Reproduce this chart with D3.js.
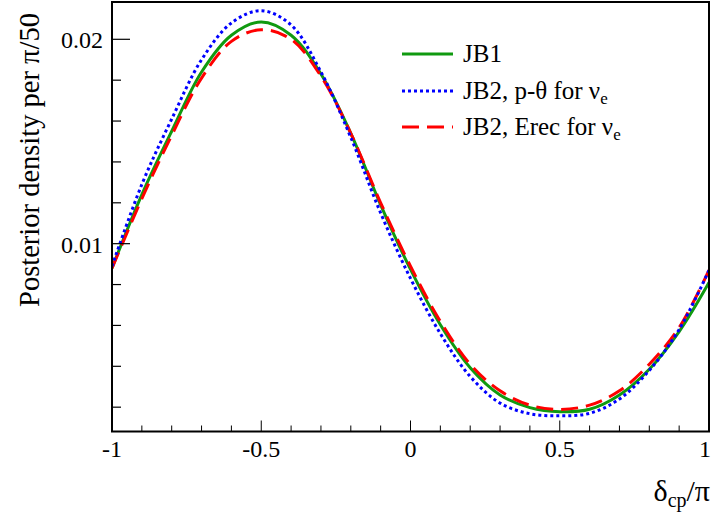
<!DOCTYPE html>
<html><head><meta charset="utf-8">
<script src="https://cdn.jsdelivr.net/npm/d3@7"></script>
<style>body{margin:0;background:#fff}svg{display:block}text{font-family:"Liberation Serif","Times New Roman",serif;fill:#000}</style>
</head><body><svg id="c" width="713" height="516"></svg>
<script>
const deltaCP = [-1.0,-0.9,-0.8,-0.7,-0.6,-0.5,-0.4,-0.3,-0.2,-0.1,0.0,0.1,0.2,0.3,0.4,0.5,0.6,0.7,0.8,0.9,1.0];
const jb1      = [0.0088,0.0124,0.0155,0.0184,0.0202,0.02085,0.0202,0.0183,0.0154,0.0119,0.00874,0.00603,0.00393,0.0026,0.00198,0.00178,0.0019,0.0026,0.00386,0.0057,0.0081];
const jb2ptheta= [0.0089,0.0129,0.0161,0.0190,0.0208,0.0214,0.0207,0.0184,0.0152,0.0115,0.0083,0.0056,0.0035,0.0022,0.00168,0.00158,0.0017,0.0024,0.0038,0.0058,0.0087];
const jb2erec  = [0.0088,0.0122,0.0153,0.0181,0.0199,0.02047,0.0200,0.0182,0.0154,0.0120,0.0089,0.0062,0.0041,0.0028,0.0021,0.00189,0.0021,0.0028,0.0041,0.0059,0.0087];
const seriesNames = ["JB1","JB2, p-θ for ","JB2, Erec for "];
const xTickLabels = ["-1","-0.5","0","0.5","1"];
const yTickLabels = ["0.01","0.02"];

const svg = d3.select("#c");
const L=112,R=709,T=2,B=431.5;
const x = d3.scaleLinear().domain([-1,1]).range([L,R]);
const y = d3.scaleLinear().domain([0.00081,0.021825]).range([B,T]);

const series = [
 {v:jb1, color:"#109a10", dash:null},
 {v:jb2ptheta, color:"#0000ff", dash:"3,3"},
 {v:jb2erec, color:"#ff0000", dash:"17,8"}
];
const line = d3.line().x((d,i)=>x(deltaCP[i])).y(d=>y(d)).curve(d3.curveCatmullRom.alpha(0.5));
const g = svg.append("g");
g.append("clipPath").attr("id","clip").append("rect").attr("x",L).attr("y",T).attr("width",R-L).attr("height",B-T);
[0,2,1].forEach(k=>{
  const s=series[k];
  g.append("path").attr("d",line(s.v)).attr("fill","none").attr("stroke",s.color)
   .attr("stroke-width",3).attr("stroke-dasharray",s.dash).attr("clip-path","url(#clip)");
});

svg.append("rect").attr("x",L).attr("y",T).attr("width",R-L).attr("height",B-T)
  .attr("fill","none").attr("stroke","#000").attr("stroke-width",2);

const xt = d3.range(-10,11).map(i=>i/10);
svg.append("g").selectAll("line").data(xt).join("line")
  .attr("x1",d=>x(d)).attr("x2",d=>x(d))
  .attr("y1",B).attr("y2",(d,i)=>B-(i%5===0?11:6)).attr("stroke","#000").attr("stroke-width",1);
svg.append("g").selectAll("text").data(xTickLabels).join("text")
  .attr("x",d=>Math.min(x(+d),705)).attr("y",457).attr("text-anchor","middle").attr("font-size",24).text(d=>d);

const yt = d3.range(1,11).map(i=>i*0.002);
svg.append("g").selectAll("line").data(yt).join("line")
  .attr("y1",d=>y(d)).attr("y2",d=>y(d))
  .attr("x1",L).attr("x2",(d,i)=>L+((i+1)%5===0?18:9)).attr("stroke","#000").attr("stroke-width",1.2);
svg.append("g").selectAll("text").data(yTickLabels).join("text")
  .attr("x",103).attr("y",d=>y(+d)+9).attr("text-anchor","end").attr("font-size",24).text(d=>d);

svg.append("text").attr("transform","translate(39,160) rotate(-90)").attr("text-anchor","middle")
  .attr("font-size",28.5).text("Posterior density per π/50");
const xtitle = svg.append("text").attr("x",710).attr("y",501).attr("text-anchor","end").attr("font-size",30);
xtitle.append("tspan").text("δ");
xtitle.append("tspan").attr("font-size",20).attr("dy",6).text("cp");
xtitle.append("tspan").attr("dy",-6).text("/π");

const ly=[54,91,127];
series.forEach((s,k)=>{
  svg.append("line").attr("x1",402).attr("x2",453).attr("y1",ly[k]).attr("y2",ly[k])
    .attr("stroke",s.color).attr("stroke-width",3).attr("stroke-dasharray",s.dash);
  const t = svg.append("text").attr("x",463).attr("y",ly[k]+8).attr("font-size",25);
  t.append("tspan").text(seriesNames[k]);
  if(k>0){ t.append("tspan").text("ν"); t.append("tspan").attr("font-size",17).attr("dy",5).text("e"); }
});
</script></body></html>
